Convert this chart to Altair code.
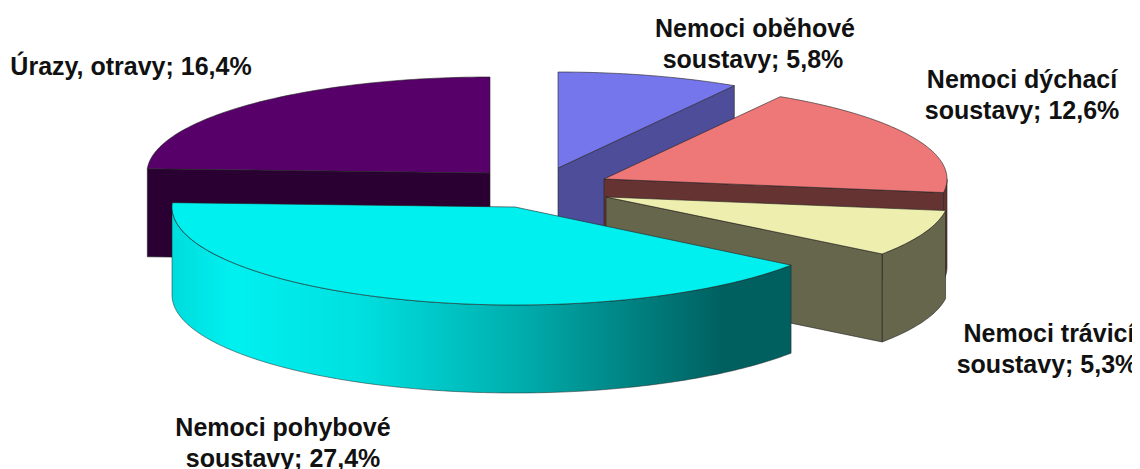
import math
import altair as alt

# ---- data
names = ["Nemoci oběhové soustavy", "Nemoci dýchací soustavy", "Nemoci trávicí soustavy",
         "Nemoci pohybové soustavy", "Úrazy, otravy"]
values = [5.8, 12.6, 5.3, 27.4, 16.4]

# label lines
label_lines = ["Nemoci oběhové", "soustavy; 5,8%", "Nemoci dýchací", "soustavy; 12,6%",
               "Nemoci trávicí", "soustavy; 5,3%", "Nemoci pohybové", "soustavy; 27,4%",
               "Úrazy, otravy; 16,4%"]

# ---- styling / layout
top_colors = ["#7676EC", "#EE7777", "#EEEEAE", "#00F0F0", "#58006A"]
side_colors = ["#4D4D99", "#663333", "#66664D", "#00A0A0", "#2A0033"]
centers = [(558, 168), (604, 179), (606, 197), (515, 207), (490, 173)]
radii_y = [96, 96, 96, 98, 96]
RX = 343
DEPTH = 88
OFF = 8  # page margin
label_x = [755, 753, 1022, 1022, 1049, 1047, 283, 283, 131]
label_y = [37, 68, 88, 119, 342, 373, 436, 467, 75]

total = sum(values)
angles = [0.0]
for v in values:
    angles.append(angles[-1] + v / total * 360)


def pt(i, a, drop=0):
    r = math.radians(a)
    cx, cy = centers[i]
    return [cx + RX * math.sin(r) - OFF, cy - radii_y[i] * math.cos(r) + drop - OFF]


def arc(i, a0, a1, drop=0):
    n = max(2, int(abs(a1 - a0)) + 1)
    return [pt(i, a0 + (a1 - a0) * k / n, drop) for k in range(n + 1)]


def apex(i, drop=0):
    return [centers[i][0] - OFF, centers[i][1] + drop - OFF]


def feature(ring, fill, stroke="#222222", sw=0.6):
    return {"type": "Feature",
            "geometry": {"type": "Polygon", "coordinates": [ring + [ring[0]]]},
            "properties": {"fill": fill, "stroke": stroke, "sw": sw}}


def top(i):
    return feature([apex(i)] + arc(i, angles[i], angles[i + 1]), top_colors[i])


def radial(i, a):
    return feature([apex(i), pt(i, a), pt(i, a, DEPTH), apex(i, DEPTH)], side_colors[i])


def outer(i, a0, a1):
    return feature(arc(i, a0, a1) + arc(i, a1, a0, DEPTH), side_colors[i])


back = [
    radial(0, angles[1]), top(0),
    radial(4, angles[4]), top(4),
    outer(1, 90, angles[2]), radial(1, angles[2]), top(1),
    outer(2, angles[2], angles[3]), radial(2, angles[3]), top(2),
]
cyan_wall = [outer(3, angles[3], 270)]
cyan_top = [top(3)]

PROJ = dict(type="identity", scale=1, translate=[0, 0])


def shapes(feats):
    return alt.Chart(alt.InlineData(values=feats)).mark_geoshape().encode(
        fill=alt.Fill("properties.fill:N", scale=None),
        stroke=alt.Stroke("properties.stroke:N", scale=None),
        strokeWidth=alt.StrokeWidth("properties.sw:Q", scale=None),
    ).project(**PROJ)


wall_gradient = alt.Gradient(
    gradient="linear", x1=0, x2=1, y1=0, y2=0,
    stops=[
        alt.GradientStop(offset=0.0, color="#00DCDC"),
        alt.GradientStop(offset=0.10, color="#00F0F0"),
        alt.GradientStop(offset=0.30, color="#00E0E0"),
        alt.GradientStop(offset=0.55, color="#00B0B0"),
        alt.GradientStop(offset=0.75, color="#008080"),
        alt.GradientStop(offset=0.89, color="#006060"),
        alt.GradientStop(offset=1.0, color="#006060"),
    ],
)
wall = alt.Chart(alt.InlineData(values=cyan_wall)).mark_geoshape(
    fill=wall_gradient, stroke="#222222", strokeWidth=0.5
).project(**PROJ)

text_rows = [{"t": t, "x": x - OFF, "y": y - OFF}
             for t, x, y in zip(label_lines, label_x, label_y)]
labels = alt.Chart(alt.InlineData(values=text_rows)).mark_text(
    font="Liberation Sans", fontWeight="bold", fontSize=25, color="#111111",
    align="center", baseline="alphabetic"
).encode(
    text="t:N",
    x=alt.X("x:Q", scale=None),
    y=alt.Y("y:Q", scale=None),
)

chart = alt.layer(shapes(back), wall, shapes(cyan_top), labels).properties(
    width=1124, height=461, padding=0,
    autosize=alt.AutoSizeParams(type="none"), background="white",
).configure_view(stroke=None)

chart.save("out.html", embed_options={"renderer": "svg", "actions": False})
